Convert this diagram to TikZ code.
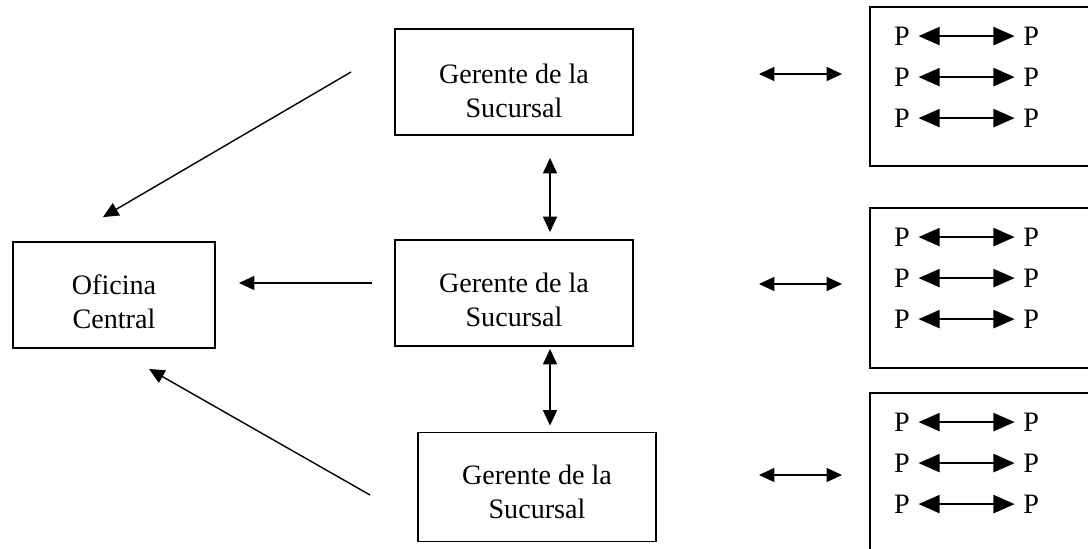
\documentclass[tikz,border=0pt]{standalone}
\usepackage{fontspec}
\setmainfont{Liberation Serif}
\usetikzlibrary{arrows.meta}

\begin{document}
\begin{tikzpicture}[
  x=0.025cm, y=-0.025cm,
  caja/.style={draw, line width=1.3pt, minimum width=5.95cm, minimum height=2.65cm, inner sep=0pt},
  grupo/.style={draw, line width=1.3pt, minimum width=6.25cm, inner sep=0pt},
  rotulo/.style={align=center, font=\fontsize{20}{24}\selectfont},
  per/.style={font=\fontsize{20}{20}\selectfont, inner ysep=0pt, inner xsep=6pt},
  flecha/.style={line width=1pt, -{Triangle[length=11pt,width=10pt]}},
  doble/.style={line width=1pt, {Triangle[length=11pt,width=10pt]}-{Triangle[length=11pt,width=10pt]}},
  enlace/.style={line width=1pt, {Triangle[length=15pt,width=13pt]}-{Triangle[length=15pt,width=13pt]}}
]

\useasboundingbox (0,0) rectangle (1088,548);
\clip (0,0) rectangle (1088,548);

\node [caja, minimum width=5.05cm] (oficina) at (114,295) {};
\node [rotulo] (oficina-t) at (114,302) {Oficina\\Central};

\node [caja] (g1) at (514,82) {};
\node [rotulo] (g1-t) at (514,91) {Gerente de la\\Sucursal};

\node [caja] (g2) at (514,293) {};
\node [rotulo] (g2-t) at (514,300) {Gerente de la\\Sucursal};

\node [caja, minimum height=2.725cm] (g3) at (537,487) {};
\node [rotulo] (g3-t) at (537,492) {Gerente de la\\Sucursal};

\node [grupo, minimum height=3.975cm] (grupo1) at (995,86.5) {};
\node [grupo, minimum height=4cm] (grupo2) at (995,288) {};
\node [grupo, minimum height=4.425cm] (grupo3) at (995,481.5) {};

\foreach \g in {1,2,3} {
  \foreach \f/\d in {1/0.75, 2/1.775, 3/2.8} {
    \node [per] (p\g\f-a) at ([xshift=0.825cm, yshift=-\d cm]grupo\g.north west) {P};
    \node [per] (p\g\f-b) at ([xshift=4.05cm, yshift=-\d cm]grupo\g.north west) {P};
    \draw [enlace] (p\g\f-a) -- (p\g\f-b);
  }
}

\draw [doble, shorten <=3.125cm, shorten >=0.675cm] ([yshift=0.2cm]g1.east) -- ([yshift=0.2cm]g1.east -| grupo1.west);
\draw [doble, shorten <=3.125cm, shorten >=0.675cm] ([yshift=0.225cm]g2.east) -- ([yshift=0.225cm]g2.east -| grupo2.west);
\draw [doble, shorten <=2.55cm, shorten >=0.675cm] ([yshift=0.3cm]g3.east) -- ([yshift=0.3cm]g3.east -| grupo3.west);

\draw [doble, shorten <=0.55cm, shorten >=0.175cm] ([xshift=0.9cm]g1.south) -- ([xshift=0.9cm]g1.south |- g2.north);
\draw [doble, shorten <=0.05cm, shorten >=0.15cm] ([xshift=0.9cm]g2.south) -- ([xshift=0.9cm]g2.south |- g3.north);

\draw [flecha] ([xshift=-1.075cm, yshift=0.25cm]g1.west) -- ([xshift=-0.275cm, yshift=0.6cm]oficina.north);
\draw [flecha, shorten <=0.55cm, shorten >=0.575cm] ([yshift=0.25cm]g2.west) -- ([yshift=0.25cm]g2.west -| oficina.east);
\draw [flecha] ([xshift=-1.175cm, yshift=-0.2cm]g3.west) -- ([xshift=0.875cm, yshift=-0.5cm]oficina.south);

\end{tikzpicture}
\end{document}
